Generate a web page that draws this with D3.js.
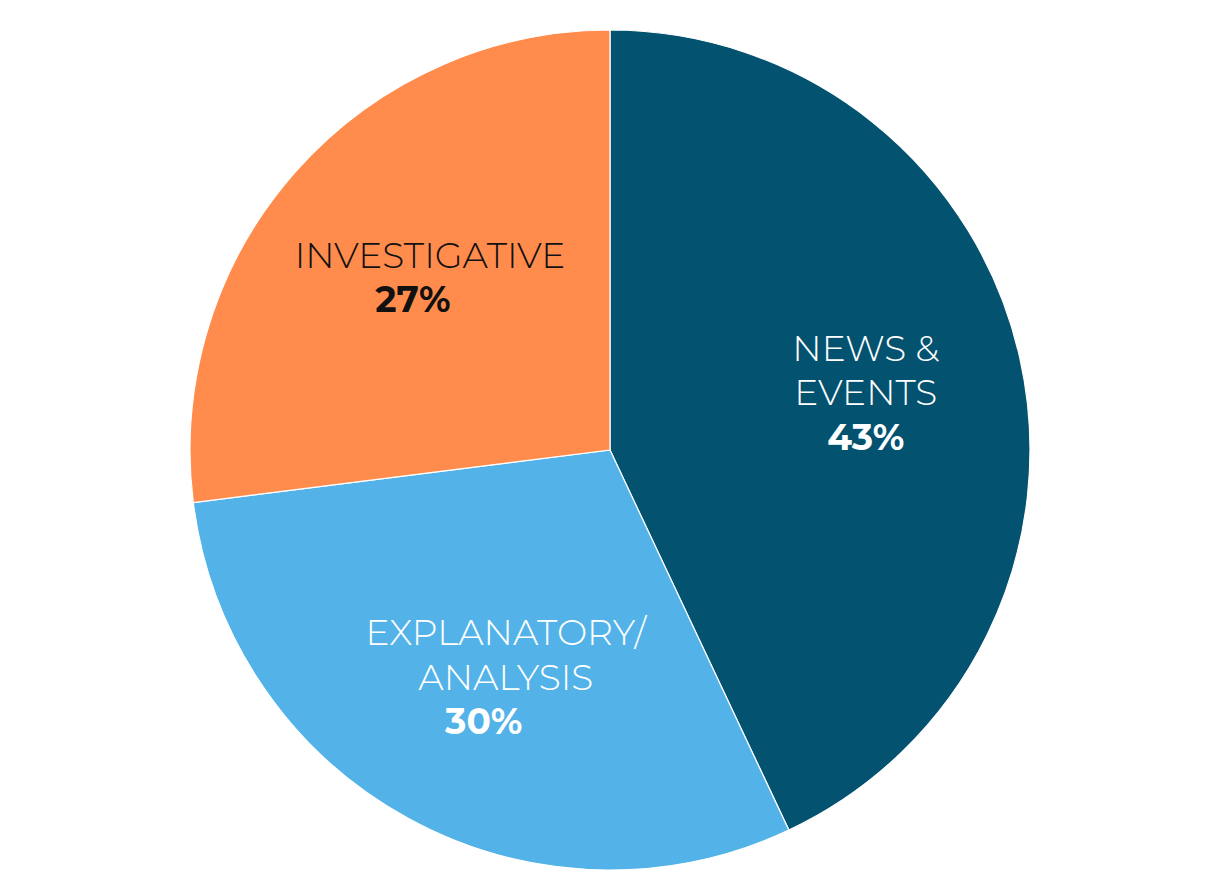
<!DOCTYPE html>
<html>
<head>
<meta charset="utf-8">
<script src="https://cdn.jsdelivr.net/npm/d3@7"></script>
<style>
    body { margin: 0; background: #fff; }
    svg text { font-family: Montserrat, 'Open Sans', sans-serif; }
</style>
</head>
<body>
<div id="chart"></div>
<script>
const categories = ['NEWS & EVENTS', 'EXPLANATORY/ANALYSIS', 'INVESTIGATIVE'];
const shares = [43, 30, 27];
const labelLines = [['NEWS &', 'EVENTS'], ['EXPLANATORY/', 'ANALYSIS'], ['INVESTIGATIVE']];
const colors = ['#03526f', '#53b3e8', '#ff8c4d'];
const textColors = ['#ffffff', '#ffffff', '#111111'];

const width = 1220, height = 880;
const cx = 610, cy = 450, radius = 420;
// percent line is nudged a bit left in the original for two of the labels
const pctShift = [0, -22, -17];
const titleShift = [2, 21, 15];

const svg = d3.select('#chart').append('svg')
    .attr('width', width)
    .attr('height', height);

const g = svg.append('g').attr('transform', `translate(${cx},${cy})`);

const pie = d3.pie().sort(null).value(d => d);
const arcs = pie(shares);
const arc = d3.arc().innerRadius(0).outerRadius(radius);
const labelArc = d3.arc().innerRadius(260).outerRadius(260);

g.selectAll('path')
    .data(arcs)
    .enter()
    .append('path')
        .attr('d', arc)
        .attr('fill', (d, i) => colors[i])
        .attr('stroke', '#ffffff')
        .attr('stroke-width', 1.2);

const lineH = 44.5;
arcs.forEach(function(d, i) {
    const [x, y] = labelArc.centroid(d);
    const lines = labelLines[i];
    const total = lines.length + 1;
    const top = y - (total - 1) * lineH / 2 + 12;
    const t = g.append('g').attr('fill', textColors[i]).attr('text-anchor', 'middle');
    lines.forEach(function(line, j) {
        t.append('text')
            .attr('x', x + titleShift[i])
            .attr('y', top + j * lineH)
            .attr('font-size', 36)
            .attr('font-weight', 300)
            .text(line);
    });
    t.append('text')
        .attr('x', x + pctShift[i] + titleShift[i])
        .attr('y', top + lines.length * lineH)
        .attr('font-size', 36)
        .attr('font-weight', 700)
        .text(shares[i] + '%');
});
</script>
</body>
</html>
